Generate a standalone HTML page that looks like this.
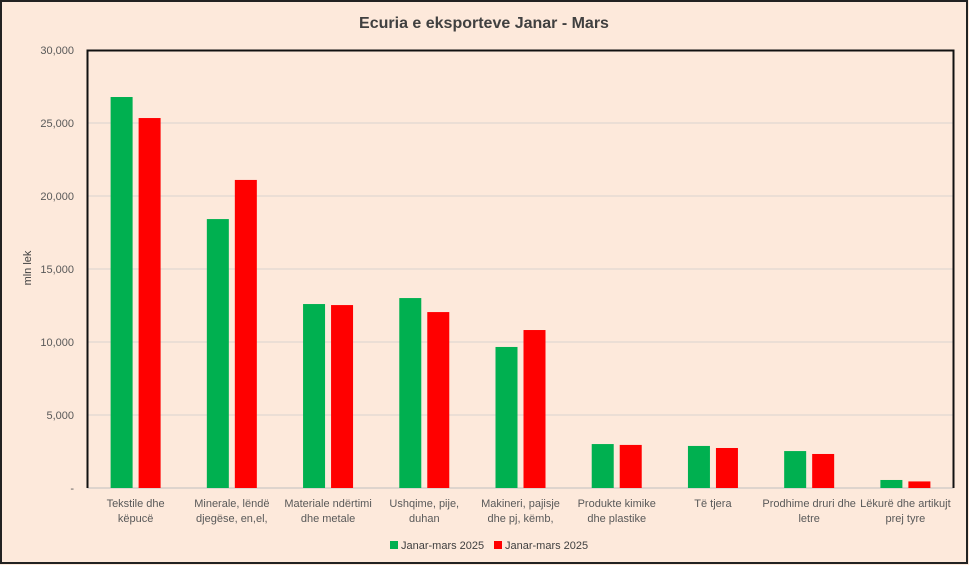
<!DOCTYPE html>
<html><head><meta charset="utf-8"><style>
html,body{margin:0;padding:0;background:#fde9db;}
svg{display:block;font-family:"Liberation Sans",sans-serif;}
</style></head><body>
<svg id="chart" width="969" height="565">
<rect x="1" y="1" width="966" height="562" fill="#fde9db" stroke="#222" stroke-width="2"/>
<text x="484" y="28" text-anchor="middle" font-size="16" font-weight="bold" fill="#404040">Ecuria e eksporteve Janar - Mars</text>
<text transform="translate(31,268) rotate(-90)" text-anchor="middle" font-size="11" fill="#404040">mln lek</text>
<g id="grid"></g><g id="bars"></g><g id="labels"></g>
<path d="M87.5,488 V50.5 H953.5 V488" fill="none" stroke="#111" stroke-width="2"/>
<g>
<rect x="390" y="541" width="8" height="8" fill="#00b050"/>
<text x="401" y="549" font-size="11" fill="#404040">Janar-mars 2025</text>
<rect x="494" y="541" width="8" height="8" fill="#ff0000"/>
<text x="505" y="549" font-size="11" fill="#404040">Janar-mars 2025</text>
</g>
</svg>
<script>
const categories=[["Tekstile dhe","këpucë"],["Minerale, lëndë","djegëse, en,el,"],["Materiale ndërtimi","dhe metale"],["Ushqime, pije,","duhan"],["Makineri, pajisje","dhe pj, këmb,"],["Produkte kimike","dhe plastike"],["Të tjera"],["Prodhime druri dhe","letre"],["Lëkurë dhe artikujt","prej tyre"]];
const seriesGreen=[26780,18420,12600,13010,9660,3010,2880,2530,550];
const seriesRed=[25340,21100,12530,12050,10820,2950,2740,2330,450];
const yTicks=[0,5000,10000,15000,20000,25000,30000];
const yTickLabels=["-","5,000","10,000","15,000","20,000","25,000","30,000"];
const NS="http://www.w3.org/2000/svg";
const L=87.5,R=953.5,T=50,B=488;
const y=v=>B-(v/30000)*(B-T);
const band=(R-L)/categories.length;
const xc=i=>L+band*(i+0.5);
function mk(tag,attrs,parent){const e=document.createElementNS(NS,tag);for(const k in attrs)e.setAttribute(k,attrs[k]);parent.appendChild(e);return e;}
const grid=document.getElementById('grid'),bars=document.getElementById('bars'),labels=document.getElementById('labels');
yTicks.forEach((t,i)=>{
 const ln=mk('line',{x1:L,x2:R,y1:y(t),y2:y(t),stroke:i===0?'#bfbfbf':'#d9d4cf','stroke-width':1},grid);
 
 
 const tx=mk('text',{x:74,y:y(t)+4,'text-anchor':'end','font-size':11,fill:'#595959'},labels);
 tx.textContent=yTickLabels[i];
 
 
});
const bw=22,gap=6;
categories.forEach((c,i)=>{
 const g=mk('rect',{x:xc(i)-gap/2-bw,y:y(seriesGreen[i]),width:bw,height:B-y(seriesGreen[i]),fill:'#00b050'},bars);
 
 
 const r=mk('rect',{x:xc(i)+gap/2,y:y(seriesRed[i]),width:bw,height:B-y(seriesRed[i]),fill:'#ff0000'},bars);
 
 
 c.forEach((line,j)=>{
  const t=mk('text',{x:xc(i),y:507+j*15,'text-anchor':'middle','font-size':11,fill:'#595959'},labels);
  t.textContent=line;
  
  
 });
});
</script>
</body></html>
